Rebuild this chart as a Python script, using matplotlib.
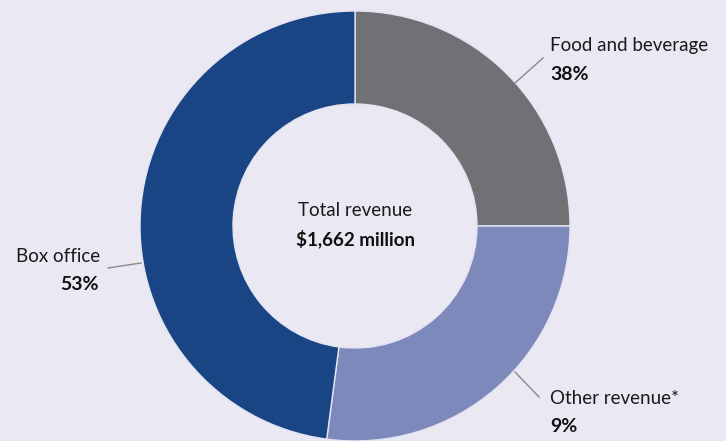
import numpy as np
import matplotlib.pyplot as plt

plt.rc('font', family=['Lato', 'DejaVu Sans'], size=13.5)

# slices clockwise from 12 o'clock
names = ['Food and beverage', 'Other revenue*', 'Box office']
shares = [25.0, 27.1, 47.9]          # share of the ring as drawn
printed = ['38%', '9%', '53%']       # percentages printed beside the ring
colors = ['#707174', '#7d89bb', '#1a4585']
total_label = 'Total revenue'
total_value = '$1,662 million'

bg = '#e9e8f3'
W, H = 726, 441
fig = plt.figure(figsize=(W / 100, H / 100), dpi=100, facecolor=bg)
ax = fig.add_axes([0, 0, 1, 1])
ax.set_facecolor(bg)

cx, cy, R = 355, H - 226, 215
ax.pie(shares, colors=colors, startangle=90, counterclock=False,
       center=(cx, cy), radius=R,
       wedgeprops=dict(width=93, edgecolor='#e4e4f2', linewidth=1))

ax.set_xlim(0, W)
ax.set_ylim(0, H)
ax.set_aspect('equal')
ax.axis('off')

ax.text(cx, H - 210, total_label, ha='center', va='center', color='#1a1a1a')
ax.text(cx, H - 239, total_value, ha='center', va='center', fontweight='bold', color='#111111')

# leader lines and labels (pixel positions, y measured from top)
lc = '#8a8a8a'
ax.plot([515, 543], [H - 83, H - 58], color=lc, lw=1)
ax.text(550, H - 46, names[0], ha='left', va='center', color='#1a1a1a')
ax.text(550, H - 74, printed[0], ha='left', va='center', fontweight='bold', color='#111111', fontsize=14)

ax.plot([515, 539], [H - 372, H - 397], color=lc, lw=1)
ax.text(550, H - 399, names[1], ha='left', va='center', color='#1a1a1a')
ax.text(550, H - 427, printed[1], ha='left', va='center', fontweight='bold', color='#111111', fontsize=14)

ax.plot([108, 141], [H - 268, H - 263], color=lc, lw=1)
ax.text(100, H - 256, names[2], ha='right', va='center', color='#1a1a1a')
ax.text(99, H - 284, printed[2], ha='right', va='center', fontweight='bold', color='#111111', fontsize=14)

fig.savefig('out.png', dpi=100, facecolor=bg)
